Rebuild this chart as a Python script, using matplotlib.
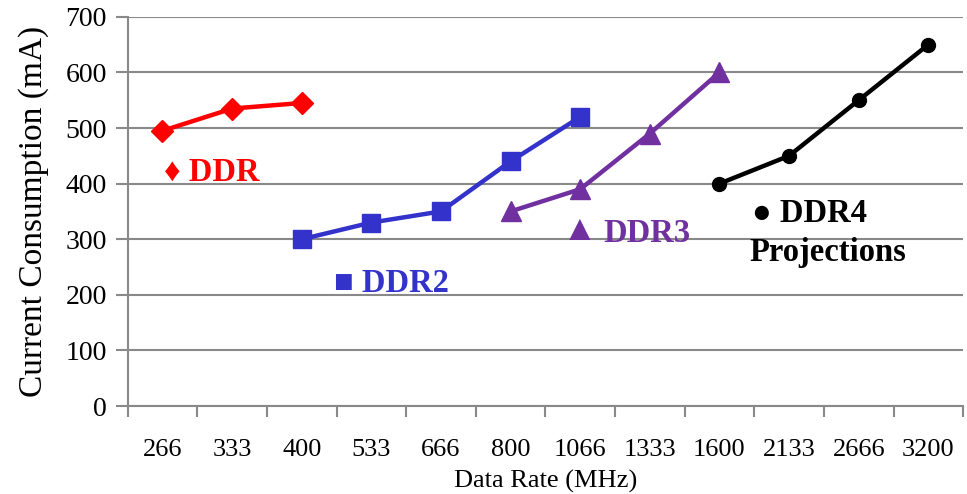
import matplotlib
matplotlib.use("Agg")
import matplotlib.pyplot as plt
import numpy as np

categories = ["266", "333", "400", "533", "666", "800", "1066", "1333", "1600", "2133", "2666", "3200"]

ddr_x = ["266", "333", "400"]
ddr_y = [495, 535, 545]
ddr2_x = ["400", "533", "666", "800", "1066"]
ddr2_y = [300, 330, 350, 440, 520]
ddr3_x = ["800", "1066", "1333", "1600"]
ddr3_y = [350, 390, 490, 600]
ddr4_x = ["1600", "2133", "2666", "3200"]
ddr4_y = [400, 450, 550, 650]

plt.rcParams['font.family'] = ['Liberation Serif', 'DejaVu Sans']

fig = plt.figure(figsize=(9.67, 4.94), dpi=100)
ax = fig.add_axes([0.132, 0.178, 0.864, 0.788])

idx = {c: i for i, c in enumerate(categories)}

def pos(xs):
    return [idx[c] for c in xs]

lw = 3.2
ax.plot(pos(ddr_x), ddr_y, color="#FF0000", lw=lw, marker="D", markersize=11, zorder=3)
ax.plot(pos(ddr2_x), ddr2_y, color="#3333CC", lw=lw, marker="s", markersize=13, zorder=3)
ax.plot(pos(ddr3_x), ddr3_y, color="#7030A0", lw=lw, marker="^", markersize=14, zorder=3)
ax.plot(pos(ddr4_x), ddr4_y, color="#000000", lw=lw, marker="o", markersize=10, zorder=3)

# series labels
lab_fs = 23.5
ax.text(0.02, 421, "\u2666 DDR", color="#FF0000", fontsize=lab_fs, fontweight="bold", va="center", ha="left")
ax.text(2.47, 221, "\u25A0 DDR2", color="#3333CC", fontsize=lab_fs, fontweight="bold", va="center", ha="left")
ax.text(5.74, 314, "\u25B2", color="#7030A0", fontsize=26, va="center", ha="left")
ax.text(6.33, 311, "DDR3", color="#7030A0", fontsize=lab_fs, fontweight="bold", va="center", ha="left")
ax.text(8.47, 347, "\u25CF DDR4", color="#000000", fontsize=lab_fs, fontweight="bold", va="center", ha="left")
ax.text(8.43, 277, "Projections", color="#000000", fontsize=lab_fs, fontweight="bold", va="center", ha="left")

ax.set_xlim(-0.5, len(categories) - 0.5)
ax.set_ylim(0, 700)
ax.set_yticks(np.arange(0, 701, 100))
ax.yaxis.grid(True, color="#898989", lw=1.5)
ax.set_axisbelow(True)

ax.set_xticks(np.arange(-0.5, len(categories), 1.0))
ax.set_xticklabels([])
ax.set_xticks(np.arange(len(categories)), minor=True)
ax.set_xticklabels(categories, minor=True)
ax.tick_params(axis="x", which="major", direction="out", length=8, width=1.5, color="#898989")
ax.tick_params(axis="x", which="minor", length=0, pad=24, labelsize=19)
ax.tick_params(axis="y", direction="out", length=9, width=1.5, color="#898989", labelsize=20, pad=6)

for s in ["top", "right"]:
    ax.spines[s].set_visible(False)
for s in ["left", "bottom"]:
    ax.spines[s].set_color("#898989")
    ax.spines[s].set_linewidth(1.5)

ax.set_xlabel("Data Rate (MHz)", fontsize=19, labelpad=6)
ax.set_ylabel("Current Consumption (mA)", fontsize=24, labelpad=12)

fig.savefig("out.png", dpi=100)
